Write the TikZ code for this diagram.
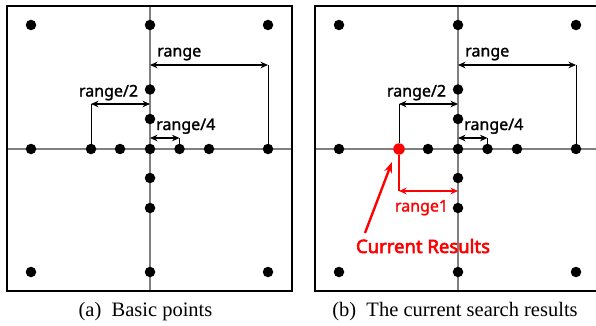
\documentclass[tikz,border=0pt]{standalone}
\usepackage{fontspec}
\setmainfont{Liberation Serif}
\newfontfamily\labfont{Noto Sans}[FakeBold=1.4]
\newfontfamily\curfont{Noto Sans}[FakeBold=3]
\usetikzlibrary{arrows.meta}
\tikzset{
  pt/.style={circle,fill=black,inner sep=0pt,minimum size=10.5pt},
  redpt/.style={pt,fill=red,minimum size=11.5pt},
  panelframe/.style={draw=black,line width=2.3pt,minimum size=285pt,inner sep=0pt,outer sep=0pt},
  crossline/.style={draw={rgb,255:red,128;green,128;blue,128},line width=1.4pt},
  dimarrow/.style={{Stealth[length=7.5pt,width=6.5pt]}-{Stealth[length=7.5pt,width=6.5pt]},line width=1.9pt},
  guide/.style={line width=0.9pt},
  lbl/.style={font=\labfont\fontsize{16}{16}\selectfont,inner sep=0pt},
  captext/.style={font=\fontsize{20.5}{20.5}\selectfont,inner sep=0pt},
}
\newcommand\panelbase[2]{%
  \coordinate (#1N) at (0,-143);
  \coordinate (#1S) at (0,143);
  \coordinate (#1W) at (-143,0);
  \coordinate (#1E) at (143,0);
  \draw[crossline] (#1N) -- (#1S);
  \draw[crossline] (#1W) -- (#1E);
  \node[panelframe] (#1F) at (-0.5,-0.3) {};
  \node[pt] (#1TL) at (-119,-124) {};
  \node[pt] (#1TR) at (118,-124) {};
  \node[pt] (#1BL) at (-119,123) {};
  \node[pt] (#1BR) at (118,123) {};
  \node[pt] (#1U1) at (0,-124) {};
  \node[pt] (#1U2) at (0,-59.5) {};
  \node[pt] (#1U3) at (0,-30) {};
  \node[pt] (#1C) at (0,0) {};
  \node[pt] (#1D3) at (0,29) {};
  \node[pt] (#1D2) at (0,59) {};
  \node[pt] (#1D1) at (0,123) {};
  \node[pt] (#1L1) at (-119,0) {};
  \node[#2] (#1L2) at (-59,0) {};
  \node[pt] (#1L3) at (-30,0) {};
  \node[pt] (#1R3) at (29.5,0) {};
  \node[pt] (#1R2) at (59,0) {};
  \node[pt] (#1R1) at (118,0) {};
  % range
  \coordinate (#1ra) at (0,-84);
  \coordinate (#1rb) at (118,-84);
  \draw[guide] (#1rb) -- (#1R1);
  \draw[dimarrow] (#1ra) -- (#1rb);
  \node[lbl,anchor=base west] (#1rl) at (7,-92.5) {range};
  % range/2
  \coordinate (#1ha) at (-59,-45);
  \coordinate (#1hb) at (0,-45);
  \draw[guide] (#1ha) -- (#1L2);
  \draw[dimarrow] (#1ha) -- (#1hb);
  \node[lbl,anchor=base] (#1hl) at (-41.5,-52.5) {range/2};
  % range/4
  \coordinate (#1qa) at (0,-11);
  \coordinate (#1qb) at (29.5,-11);
  \draw[guide] (#1qb) -- (#1R3);
  \draw[dimarrow] (#1qa) -- (#1qb);
  \node[lbl,anchor=base west] (#1ql) at (6,-19) {range/4};
}
\begin{document}
\begin{tikzpicture}[x=1pt,y=-1pt]
\useasboundingbox (0,0) rectangle (596,326);
\fill[white] (0,0) rectangle (596,326);
% panel (a)
\begin{scope}[shift={(150,149)}]
  \panelbase{a}{pt}
  \node[captext,anchor=base] (acap) at (-4.5,167) {(a)\ \ Basic points};
\end{scope}
% panel (b)
\begin{scope}[shift={(458,149)}]
  \panelbase{b}{redpt}
  \coordinate (bka) at (-59,42);
  \coordinate (bkb) at (0,42);
  \draw[guide,red,line width=1.2pt] (bL2) -- (bka);
  \draw[dimarrow,red] (bka) -- (bkb);
  \node[lbl,text=red,anchor=base] (bkl) at (-36.5,62.5) {range1};
  \node[lbl,text=red,font=\curfont\fontsize{18.5}{18.5}\selectfont,anchor=base] (bcur) at (-35,104) {Current Results};
  \coordinate (bptip) at (-66,13);
  \coordinate (bptail) at (-93,84);
  \draw[red,line width=2.4pt,-{Stealth[length=11pt,width=8pt]}] (bptail) -- (bptip);
  \node[captext,anchor=base] (bcap) at (-3,167) {(b)\ \ The current search results};
\end{scope}
\end{tikzpicture}
\end{document}
